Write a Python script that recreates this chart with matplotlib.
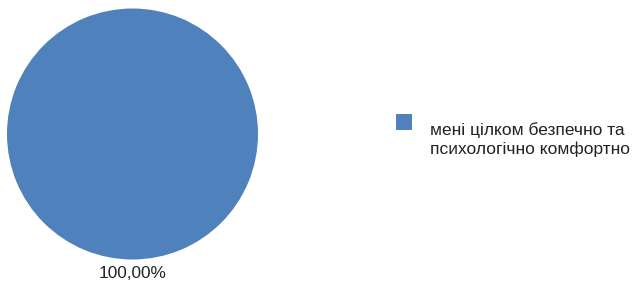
import matplotlib
matplotlib.use("Agg")
import matplotlib.pyplot as plt
from matplotlib.patches import Rectangle

labels = ["мені цілком безпечно та\nпсихологічно комфортно"]
values = [100.0]
pct_labels = ["100,00%"]
colors = ["#4F81BD"]

W, H = 633, 286
plt.rcParams['font.family'] = ['Liberation Sans', 'DejaVu Sans']
fig = plt.figure(figsize=(W / 100, H / 100), dpi=100)

# pie axes: center ~ (132,134), radius ~125 px
cx, cy, r = 132.5, 134, 125.5
ax = fig.add_axes([(cx - r) / W, 1 - (cy + r) / H, 2 * r / W, 2 * r / H])
ax.pie(values, colors=colors, startangle=90, counterclock=False,
       wedgeprops=dict(linewidth=0), radius=1)
ax.set_xlim(-1, 1)
ax.set_ylim(-1, 1)
ax.set_aspect('auto')
ax.axis('off')

fig.text(133 / W, 1 - 273 / H, pct_labels[0], ha='center', va='center',
         fontsize=12.4, color='#222222')

# legend (drawn manually for exact placement)
for i, (lab, c) in enumerate(zip(labels, colors)):
    fig.patches.append(Rectangle((396 / W, 1 - 130 / H), 16 / W, 16 / H,
                                 transform=fig.transFigure, facecolor=c,
                                 edgecolor='none'))
    fig.text(430 / W, 1 - 154 / H, lab, ha='left', va='baseline',
             fontsize=12.5, color='#222222', linespacing=1.3)

fig.savefig("out.png", dpi=100)
